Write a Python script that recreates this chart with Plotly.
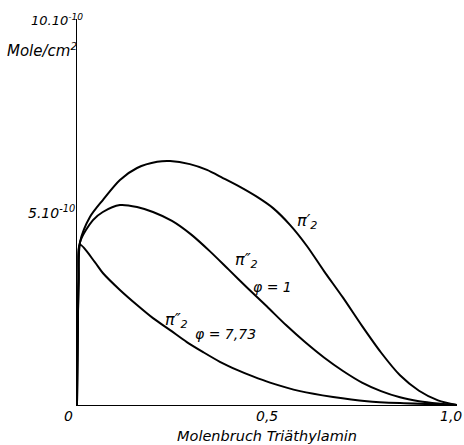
import plotly.graph_objects as go

# Surface excess (10^-10 Mole/cm^2) vs. mole fraction of triethylamine
x_pi1 = [0.0, 0.004, 0.008, 0.034, 0.068, 0.113, 0.158, 0.211, 0.245, 0.297, 0.342, 0.384,
         0.429, 0.474, 0.516, 0.561, 0.605, 0.65, 0.70, 0.75, 0.80, 0.85, 0.90, 0.95, 1.0]
y_pi1 = [0.0, 3.2, 4.22, 4.87, 5.31, 5.83, 6.14, 6.30, 6.32, 6.24, 6.09, 5.88,
         5.65, 5.39, 5.10, 4.66, 4.12, 3.47, 2.78, 2.05, 1.36, 0.77, 0.37, 0.12, 0.0]

x_phi1 = [0.0, 0.004, 0.008, 0.042, 0.068, 0.113, 0.158, 0.200, 0.25, 0.30, 0.35, 0.40,
          0.45, 0.50, 0.55, 0.60, 0.65, 0.70, 0.75, 0.80, 0.85, 0.90, 0.95, 1.0]
y_phi1 = [0.0, 3.2, 4.22, 4.79, 5.00, 5.18, 5.13, 5.00, 4.77, 4.42, 3.98, 3.50,
          3.02, 2.55, 2.07, 1.63, 1.23, 0.88, 0.58, 0.36, 0.20, 0.10, 0.04, 0.0]

x_phi773 = [0.0, 0.004, 0.008, 0.047, 0.068, 0.113, 0.158, 0.200, 0.245, 0.289, 0.332, 0.376,
            0.421, 0.463, 0.508, 0.587, 0.674, 0.763, 0.850, 1.0]
y_phi773 = [0.0, 3.2, 4.15, 3.70, 3.42, 2.98, 2.59, 2.25, 1.94, 1.63, 1.37, 1.12,
            0.91, 0.74, 0.58, 0.36, 0.21, 0.10, 0.05, 0.0]

x_tick_vals = [0.0, 0.5, 1.0]
x_tick_text = ["0", "0,5", "1,0"]
y_tick_vals = [5.0, 10.0]
y_tick_text = ["5.10<sup>-10</sup>", "10.10<sup>-10</sup>"]


def font(size):
    return dict(family="DejaVu Sans", size=size, color="black", style="italic")


fig = go.Figure()
for xs, ys in [(x_pi1, y_pi1), (x_phi1, y_phi1), (x_phi773, y_phi773)]:
    fig.add_trace(go.Scatter(x=xs, y=ys, mode="lines",
                             line=dict(color="black", width=2, shape="spline", smoothing=0.8),
                             showlegend=False, hoverinfo="skip"))

ann = []
for v, t in zip(x_tick_vals, x_tick_text):
    shift = -2 if v == 0 else (-6 if v == 1.0 else 0)
    ann.append(dict(x=v, y=0, xref="x", yref="y", text=t, showarrow=False,
                    xanchor="right" if v == 0 else "center", yanchor="top", yshift=-1,
                    xshift=shift, font=font(14)))
for v, t in zip(y_tick_vals, y_tick_text):
    ann.append(dict(x=0, y=v, xref="x", yref="y", text=t, showarrow=False,
                    xanchor="right", yanchor="middle",
                    xshift=(8 if v == 10 else 0), yshift=(-1 if v == 10 else 0),
                    font=font(14 if v == 5 else 13)))
ann.append(dict(x=0, y=9.2, xref="x", yref="y", text="Mole/cm<sup>2</sup>", showarrow=False,
                xanchor="right", yanchor="middle", xshift=2, font=font(15)))
ann.append(dict(x=0.5, y=0, xref="x", yref="y", text="Molenbruch Triäthylamin", showarrow=False,
                xanchor="center", yanchor="top", yshift=-21, font=font(14.5)))

# curve labels
labels = [
    (0.605, 4.75, "π′<sub>2</sub>", 16),
    (0.445, 3.75, "π″<sub>2</sub>", 16),
    (0.515, 3.05, "φ = 1", 14),
    (0.262, 2.2, "π″<sub>2</sub>", 16),
    (0.39, 1.85, "φ = 7,73", 14),
]
for lx, ly, lt, sz in labels:
    ann.append(dict(x=lx, y=ly, xref="x", yref="y", text=lt, showarrow=False,
                    xanchor="center", yanchor="middle", font=font(sz)))

fig.update_layout(
    width=464, height=445,
    margin=dict(l=77, r=7, t=19, b=40),
    plot_bgcolor="white", paper_bgcolor="white",
    annotations=ann,
    xaxis=dict(range=[0, 1.0], showgrid=False, zeroline=False, showline=True,
               linecolor="black", linewidth=1.2, showticklabels=False, ticks=""),
    yaxis=dict(range=[0, 10], showgrid=False, zeroline=False, showline=True,
               linecolor="black", linewidth=1.2, showticklabels=False, ticks=""),
)

fig.write_html("out.html")
